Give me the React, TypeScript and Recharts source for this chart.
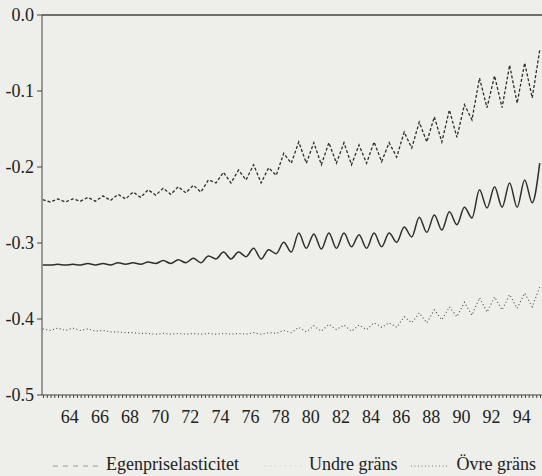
import { LineChart, Line, XAxis, YAxis, ReferenceLine } from "recharts";

// half-year sample points (peak / trough of the seasonal swing)
const YEARS = [
  62.2, 62.7, 63.2, 63.7, 64.2, 64.7, 65.2, 65.7, 66.2, 66.7, 67.2, 67.7,
  68.2, 68.7, 69.2, 69.7, 70.2, 70.7, 71.2, 71.7, 72.2, 72.7, 73.2, 73.7,
  74.2, 74.7, 75.2, 75.7, 76.2, 76.7, 77.2, 77.7, 78.2, 78.7, 79.2, 79.7,
  80.2, 80.7, 81.2, 81.7, 82.2, 82.7, 83.2, 83.7, 84.2, 84.7, 85.2, 85.7,
  86.2, 86.7, 87.2, 87.7, 88.2, 88.7, 89.2, 89.7, 90.2, 90.7, 91.2, 91.7,
  92.2, 92.7, 93.2, 93.7, 94.2, 94.7, 95.2,
];

const ELASTICITY = [
  -0.329, -0.329, -0.328, -0.329, -0.328, -0.329, -0.327, -0.329, -0.327, -0.329,
  -0.326, -0.328, -0.326, -0.328, -0.325, -0.327, -0.323, -0.327, -0.322, -0.326,
  -0.32, -0.326, -0.317, -0.321, -0.312, -0.321, -0.312, -0.318, -0.307, -0.321,
  -0.309, -0.314, -0.299, -0.312, -0.287, -0.307, -0.288, -0.308, -0.287, -0.307,
  -0.287, -0.305, -0.289, -0.307, -0.287, -0.305, -0.287, -0.299, -0.279, -0.292,
  -0.266, -0.286, -0.263, -0.283, -0.259, -0.276, -0.253, -0.267, -0.23, -0.254,
  -0.226, -0.253, -0.221, -0.253, -0.217, -0.247, -0.195,
];

const UNDRE = [
  -0.243, -0.246, -0.242, -0.246, -0.242, -0.245, -0.24, -0.245, -0.238, -0.244,
  -0.236, -0.242, -0.233, -0.24, -0.23, -0.237, -0.228, -0.236, -0.226, -0.234,
  -0.224, -0.233, -0.217, -0.221, -0.207, -0.221, -0.204, -0.217, -0.197, -0.221,
  -0.201, -0.211, -0.182, -0.195, -0.167, -0.195, -0.168, -0.197, -0.168, -0.195,
  -0.168, -0.197, -0.171, -0.195, -0.167, -0.193, -0.168, -0.187, -0.154, -0.175,
  -0.141, -0.167, -0.134, -0.167, -0.125, -0.161, -0.118, -0.138, -0.083, -0.122,
  -0.08, -0.122, -0.066, -0.116, -0.063, -0.109, -0.046,
];

const OVRE = [
  -0.413, -0.415, -0.412, -0.415, -0.412, -0.415, -0.413, -0.416, -0.415, -0.417,
  -0.417, -0.418, -0.418, -0.419, -0.419, -0.42, -0.419, -0.42, -0.419, -0.42,
  -0.419, -0.42, -0.419, -0.42, -0.419, -0.42, -0.419, -0.42, -0.418, -0.42,
  -0.418, -0.419, -0.415, -0.418, -0.411, -0.417, -0.409, -0.416, -0.407, -0.414,
  -0.408, -0.416, -0.408, -0.414, -0.405, -0.411, -0.405, -0.411, -0.397, -0.405,
  -0.392, -0.405, -0.388, -0.401, -0.384, -0.397, -0.378, -0.395, -0.372, -0.391,
  -0.371, -0.388, -0.368, -0.386, -0.366, -0.384, -0.358,
];

const LABEL_YEARS = [64, 66, 68, 70, 72, 74, 76, 78, 80, 82, 84, 86, 88, 90, 92, 94];
const Y_TICKS = [0, -0.1, -0.2, -0.3, -0.4, -0.5];

// minor ticks every quarter, labels only on even years
const QUARTER_TICKS: number[] = [];
for (let q = 62.25; q <= 95.25; q += 0.25) QUARTER_TICKS.push(q);

const data = YEARS.map((year, i) => ({
  year,
  elast: ELASTICITY[i],
  undre: UNDRE[i],
  ovre: OVRE[i],
}));

const FONT = '"Liberation Serif", "DejaVu Serif", serif';
const INK = "#2e2e2e";

function YearTick({ x, y, payload }: any) {
  if (!LABEL_YEARS.includes(payload.value)) return null;
  return (
    <text
      x={x}
      y={y}
      dy="0.71em"
      textAnchor="middle"
      fill="#222"
      style={{ fontFamily: FONT, fontSize: 18 }}
    >
      {payload.value}
    </text>
  );
}

function ValueTick({ x, y, payload }: any) {
  return (
    <text
      x={x}
      y={y}
      dy="0.35em"
      textAnchor="end"
      fill="#222"
      style={{ fontFamily: FONT, fontSize: 18 }}
    >
      {Number(payload.value).toFixed(1)}
    </text>
  );
}

export default function App() {
  return (
    <div
      style={{
        position: "absolute",
        left: 0,
        top: 0,
        width: 542,
        height: 476,
        background: "#eeeeeb",
        overflow: "hidden",
        fontFamily: FONT,
      }}
    >
      <LineChart
        width={542}
        height={440}
        data={data}
        margin={{ top: 15, right: 0, bottom: 0, left: 0 }}
        style={{ fontFamily: FONT }}
      >
        <XAxis
          dataKey="year"
          type="number"
          domain={[62.15, 95.35]}
          ticks={QUARTER_TICKS}
          interval={0}
          tick={<YearTick />}
          tickSize={3}
          tickMargin={12}
          height={45}
          stroke="#444"
        />
        <YAxis
          type="number"
          domain={[-0.5, 0]}
          ticks={Y_TICKS}
          width={42}
          tickSize={5}
          tickMargin={3}
          stroke="#444"
          tick={<ValueTick />}
        />
        <ReferenceLine y={0} stroke="#444" strokeWidth={1.3} />
        <Line
          dataKey="elast"
          type="monotone"
          stroke={INK}
          strokeWidth={1.5}
          dot={false}
          isAnimationActive={false}
        />
        <Line
          dataKey="undre"
          type="linear"
          stroke={INK}
          strokeWidth={1.3}
          strokeDasharray="3 2"
          dot={false}
          isAnimationActive={false}
        />
        <Line
          dataKey="ovre"
          type="linear"
          stroke="#555"
          strokeWidth={1.2}
          strokeDasharray="1 2.5"
          dot={false}
          isAnimationActive={false}
        />
      </LineChart>
      <div
        style={{
          position: "absolute",
          top: 454,
          left: 0,
          display: "flex",
          alignItems: "center",
          fontSize: 18,
          color: "#222",
          whiteSpace: "nowrap",
        }}
      >
        <svg width={48} height={10} style={{ marginLeft: 53 }}>
          <line x1={0} y1={6} x2={48} y2={6} stroke="#9a9a9a" strokeWidth={1} strokeDasharray="5 5" />
        </svg>
        <span style={{ marginLeft: 5 }}>Egenpriselasticitet</span>
        <svg width={40} height={10} style={{ marginLeft: 25 }}>
          <line x1={0} y1={6} x2={40} y2={6} stroke="#dcdcd9" strokeWidth={1} strokeDasharray="3 2" />
        </svg>
        <span style={{ marginLeft: 5 }}>Undre gräns</span>
        <svg width={38} height={10} style={{ marginLeft: 14 }}>
          <line x1={0} y1={6} x2={38} y2={6} stroke="#777" strokeWidth={1} strokeDasharray="1 2.5" />
        </svg>
        <span style={{ marginLeft: 7 }}>Övre gräns</span>
      </div>
    </div>
  );
}
